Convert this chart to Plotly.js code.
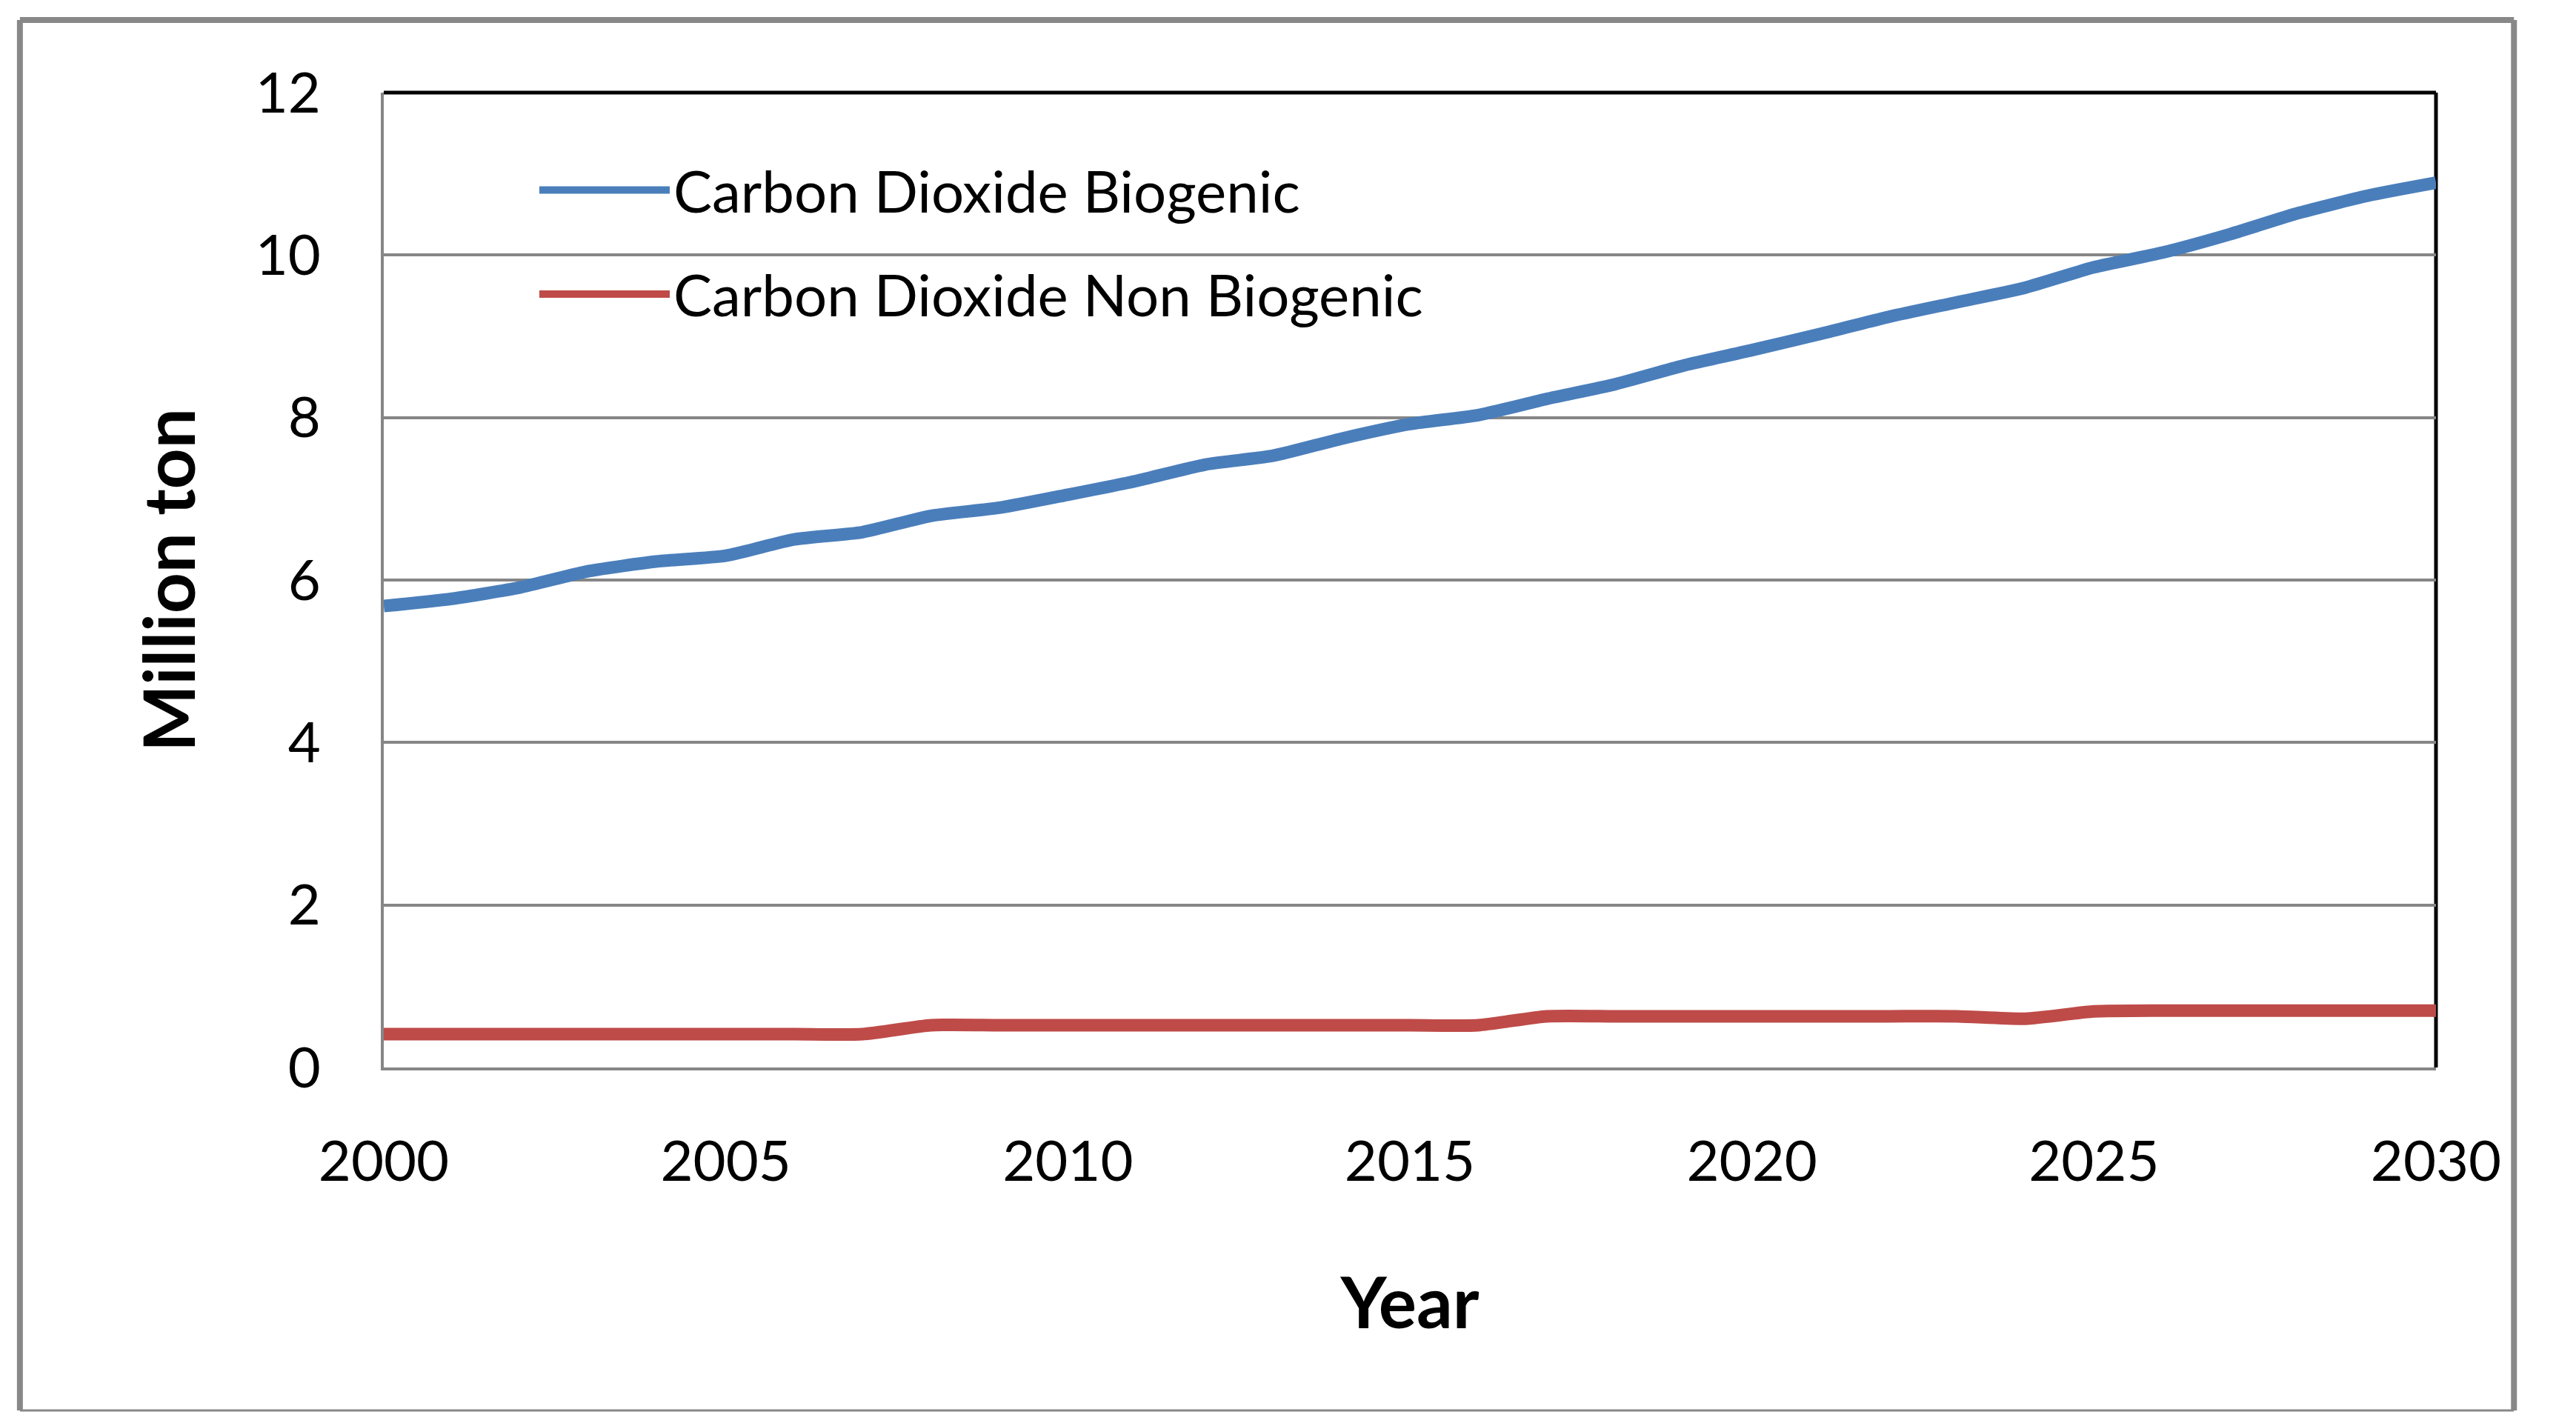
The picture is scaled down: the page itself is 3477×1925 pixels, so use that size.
<!DOCTYPE html>
<html>
<head>
<meta charset="utf-8">
<script src="https://cdn.plot.ly/plotly-3.0.1.min.js"></script>
<style>
  html, body { margin: 0; padding: 0; background: #ffffff; }
  #chart { width: 3477px; height: 1925px; }
</style>
</head>
<body>
<div id="chart"></div>
<script>
// ---- data ----
const years = [2000, 2001, 2002, 2003, 2004, 2005, 2006, 2007, 2008, 2009,
               2010, 2011, 2012, 2013, 2014, 2015, 2016, 2017, 2018, 2019,
               2020, 2021, 2022, 2023, 2024, 2025, 2026, 2027, 2028, 2029, 2030];
const biogenic = [5.68, 5.77, 5.91, 6.11, 6.23, 6.30, 6.50, 6.59, 6.79, 6.89,
                  7.05, 7.22, 7.42, 7.53, 7.74, 7.92, 8.03, 8.23, 8.41, 8.64,
                  8.83, 9.03, 9.24, 9.42, 9.60, 9.85, 10.03, 10.26, 10.52, 10.73, 10.89];
const nonBiogenic = [0.41, 0.41, 0.41, 0.41, 0.41, 0.41, 0.41, 0.41, 0.52, 0.52,
                     0.52, 0.52, 0.52, 0.52, 0.52, 0.52, 0.52, 0.63, 0.63, 0.63,
                     0.63, 0.63, 0.63, 0.63, 0.60, 0.69, 0.70, 0.70, 0.70, 0.70, 0.70];
const seriesNames = ['Carbon Dioxide Biogenic', 'Carbon Dioxide Non Biogenic'];
const xTickVals = [2000, 2005, 2010, 2015, 2020, 2025, 2030];
const yTickVals = [0, 2, 4, 6, 8, 10, 12];
const xTitle = 'Year';
const yTitle = 'Million ton';

const FONT = 'Lato, "Liberation Sans", sans-serif';
const GRID = '#868686';

const traces = [
  {
    x: years, y: biogenic, name: seriesNames[0], type: 'scatter', mode: 'lines',
    legendgroup: 'g1',
    line: { color: '#4a7ebb', width: 17, shape: 'spline', smoothing: 0.6 }
  },
  {
    x: years, y: nonBiogenic, name: seriesNames[1], type: 'scatter', mode: 'lines',
    legendgroup: 'g2',
    line: { color: '#be4b48', width: 17, shape: 'spline', smoothing: 0.6 }
  }
];

const layout = {
  width: 3477, height: 1925,
  margin: { l: 518, r: 189, t: 125, b: 484 },
  paper_bgcolor: '#ffffff', plot_bgcolor: '#ffffff',
  font: { family: FONT, color: '#000000' },
  showlegend: true,
  legend: {
    x: 0.074, y: 0.9435, xanchor: 'left', yanchor: 'top',
    bgcolor: 'rgba(0,0,0,0)', borderwidth: 0,
    font: { family: FONT, size: 78, color: '#000000' },
    itemwidth: 176, traceorder: 'grouped', tracegroupgap: 36
  },
  xaxis: {
    range: [2000, 2030], tickmode: 'array', tickvals: xTickVals,
    showgrid: false, zeroline: false,
    showline: true, linecolor: GRID, linewidth: 4,
    ticks: '', ticklabelstandoff: 58,
    tickfont: { family: FONT, size: 76, color: '#000000' },
    title: { text: xTitle, standoff: 118, font: { family: FONT, size: 96, weight: 'bold', color: '#000000' } }
  },
  yaxis: {
    range: [0, 12], tickmode: 'array', tickvals: yTickVals,
    showgrid: true, gridcolor: GRID, gridwidth: 4, zeroline: false,
    showline: true, linecolor: GRID, linewidth: 4,
    ticks: '', ticklabelstandoff: 66,
    tickfont: { family: FONT, size: 76, color: '#000000' },
    title: { text: yTitle, standoff: 50, font: { family: FONT, size: 96, weight: 'bold', color: '#000000' } }
  },
  shapes: [
    // black top and right frame of plot area
    { type: 'line', xref: 'paper', yref: 'paper', x0: 0, x1: 1, y0: 1, y1: 1, line: { color: '#000000', width: 5 }, layer: 'between' },
    { type: 'line', xref: 'paper', yref: 'paper', x0: 1, x1: 1, y0: 0, y1: 1, line: { color: '#000000', width: 5 }, layer: 'between' },
    // outer chart border
    { type: 'line', xref: 'paper', yref: 'paper', x0: -0.1773, x1: 1.0380, y0: 1.0745, y1: 1.0745, line: { color: '#888888', width: 8 } },
    { type: 'line', xref: 'paper', yref: 'paper', x0: -0.1773, x1: -0.1773, y0: -0.3518, y1: 1.0745, line: { color: '#888888', width: 8 } },
    { type: 'line', xref: 'paper', yref: 'paper', x0: 1.0380, x1: 1.0380, y0: -0.3518, y1: 1.0745, line: { color: '#888888', width: 8 } },
    { type: 'line', xref: 'paper', yref: 'paper', x0: -0.1773, x1: 1.0380, y0: -0.3518, y1: -0.3518, line: { color: '#888888', width: 3 } }
  ]
};

Plotly.newPlot('chart', traces, layout, { staticPlot: true, displayModeBar: false });
</script>
</body>
</html>
